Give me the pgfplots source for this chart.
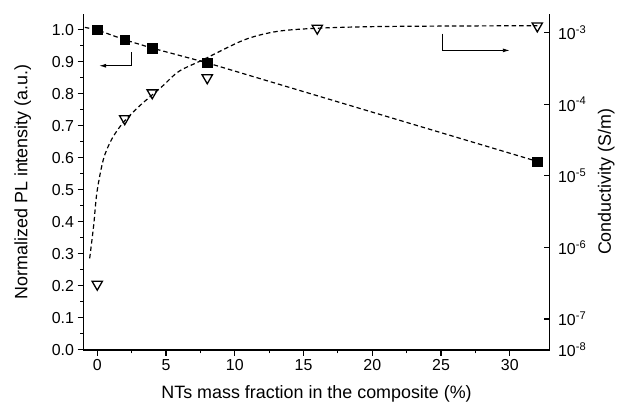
\documentclass[border=0pt]{standalone}
\usepackage{fontspec}
\setmainfont{Liberation Sans}
\usepackage{pgfplots}
\pgfplotsset{compat=1.18}
\usetikzlibrary{arrows.meta}

\begin{document}
\begin{tikzpicture}
\pgfplotsset{
  every axis/.append style={
    scale only axis, width=469pt, height=338pt,
    xmin=-1, xmax=32.9,
    clip=false,
    tick label style={font=\fontsize{16}{19}\selectfont},
    label style={font=\fontsize{18}{22}\selectfont},
    /pgf/number format/assume math mode=true,
    axis line style={line width=1.3pt},
    major tick length=6pt, minor tick length=3.5pt,
    every tick/.style={black, line width=1.1pt},
  },
  fitline/.style={black, line width=1.2pt, dash pattern=on 4.5pt off 3pt},
}
% left axis: normalized PL intensity
\begin{axis}[
  axis x line*=bottom, axis y line*=left,
  ymin=0, ymax=1.05,
  xtick={0,5,10,15,20,25,30}, minor x tick num=1,
  ytick={0,0.1,0.2,0.3,0.4,0.5,0.6,0.7,0.8,0.9,1.0}, minor y tick num=1,
  tick align=outside,
  yticklabel style={/pgf/number format/.cd, fixed, fixed zerofill, precision=1},
  xlabel={NTs mass fraction in the composite (\%)},
  ylabel={Normalized PL intensity (a.u.)},
  xlabel shift=8pt, ylabel shift=14pt,
]
\addplot[fitline] coordinates {(-0.9,1.008)(0,1.0)(2,0.969)(4,0.943)(8,0.897)(32,0.589)};
\addplot[only marks, mark=square*, mark size=4.7pt, black] coordinates {
  (0,1.0)(2,0.969)(4,0.943)(8,0.897)(32,0.589)
};
\draw[line width=0.9pt, -{Latex[length=7pt,width=4pt]}]
  (axis cs:2.51,0.93) -- (axis cs:2.51,0.888) -- (axis cs:0.14,0.888);
\draw[line width=0.9pt, -{Latex[length=7pt,width=4pt]}]
  (axis cs:25.1,0.988) -- (axis cs:25.1,0.936) -- (axis cs:30,0.936);
\end{axis}
% right axis: conductivity, values as log10(S/m)
\begin{axis}[
  axis y line*=right, hide x axis,
  ymin=-7.431, ymax=-2.736,
  ytick={-7.431,-7,-6,-5,-4,-3},
  yticklabels={10\textsuperscript{-8},10\textsuperscript{-7},10\textsuperscript{-6},10\textsuperscript{-5},10\textsuperscript{-4},10\textsuperscript{-3}},
  yticklabel style={xshift=5pt},
  tick align=inside,
  ylabel={Conductivity (S/m)},
  ylabel shift=5pt,
]
\addplot[fitline, smooth] coordinates {
  (-0.55,-6.152)(-0.26,-5.691)(-0.02,-5.226)(0.45,-4.766)(1.05,-4.488)
  (1.88,-4.256)(3.07,-4.023)(4.74,-3.746)(5.93,-3.540)(7.71,-3.375)
  (10.7,-3.098)(13.07,-2.981)(15.9,-2.937)(20,-2.914)(26,-2.905)(32,-2.901)
};
\addplot[only marks, mark=triangle, mark options={rotate=180, line width=1.3pt, fill=white}, mark size=6pt, black] coordinates {
  (0,-6.514)(2,-4.201)(4,-3.839)(8,-3.629)(16,-2.936)(32,-2.904)
};
\end{axis}
\path ([shift={(-84pt,-57pt)}]current axis.south west) rectangle ([shift={(65pt,14pt)}]current axis.north east);
\end{tikzpicture}
\end{document}
